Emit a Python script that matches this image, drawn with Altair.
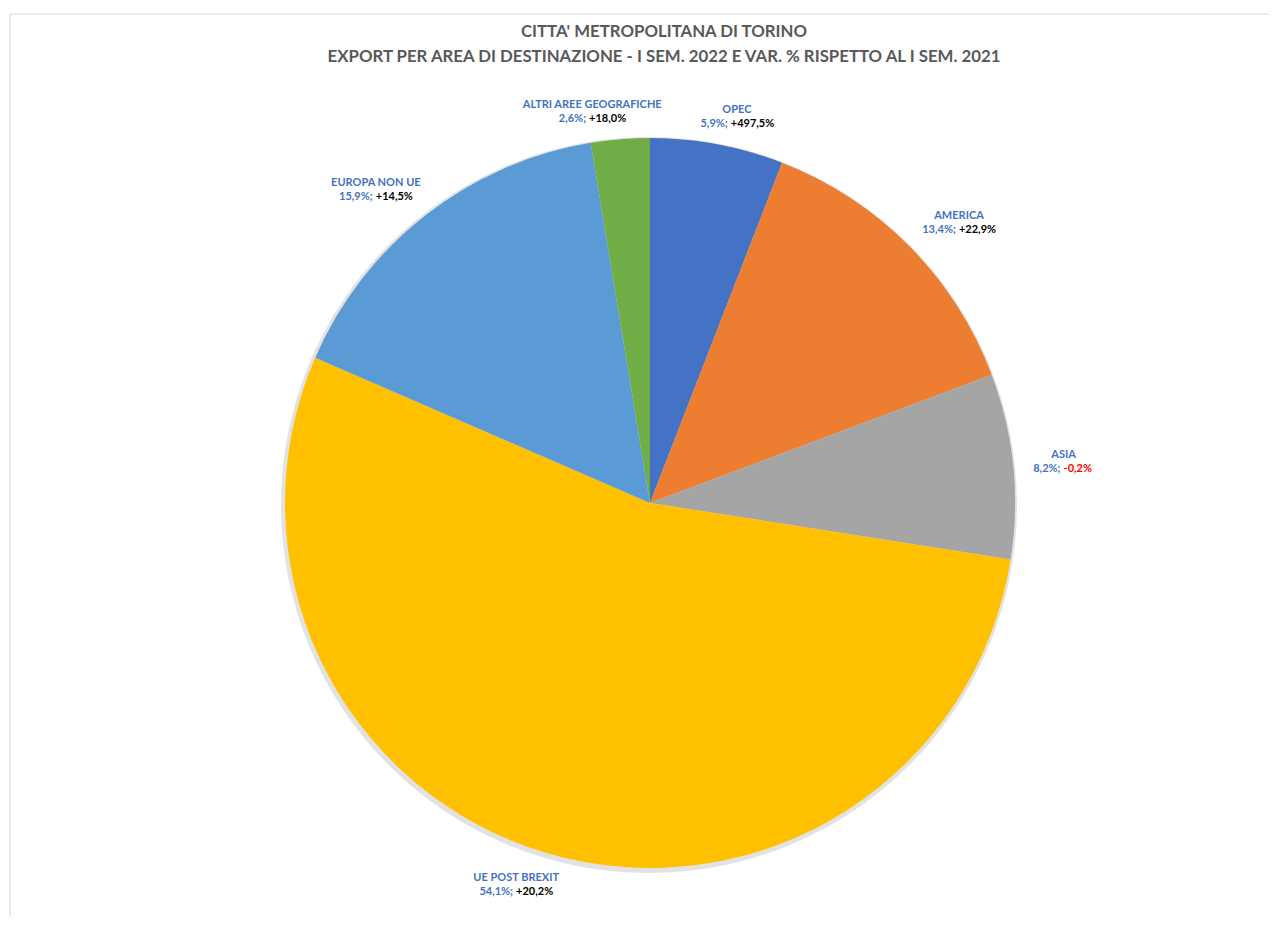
import math
import altair as alt
import pandas as pd

categories = ["OPEC", "AMERICA", "ASIA", "UE POST BREXIT", "EUROPA NON UE", "ALTRI AREE GEOGRAFICHE"]
shares = [5.9, 13.4, 8.2, 54.1, 15.9, 2.6]
variations = [497.5, 22.9, -0.2, 20.2, 14.5, 18.0]
colors = ["#4472C4", "#ED7D31", "#A5A5A5", "#FFC000", "#5B9BD5", "#70AD47"]
title_lines = ["CITTA' METROPOLITANA DI TORINO",
               "EXPORT PER AREA DI DESTINAZIONE - I SEM. 2022 E VAR. % RISPETTO AL I SEM. 2021"]

FONT = "Lato"
LBL_SIZE = 11
BLUE = "#4472C4"


def it(v):
    return f"{v:.1f}".replace(".", ",")


df = pd.DataFrame({"category": categories, "share": shares, "var": variations})
df["order"] = range(len(df))
df["mid"] = df["share"].cumsum() - df["share"] / 2
df["share_txt"] = [it(s) + "%;" for s in shares]
df["var_txt"] = [("+" if v >= 0 else "") + it(v) + "%" for v in variations]
df["var_col"] = ["#000000" if v >= 0 else "#FF0000" for v in variations]

total = float(sum(shares))
CX, CY = 642, 495
TX = 656
R = 365
LR = 384
theta_scale = alt.Scale(domain=[0, total], range=[0, 2 * math.pi])

widths = {c: 0.55 for c in "0123456789+-"}
widths.update({",": 0.26, ";": 0.26, "%": 0.85, " ": 0.26})


def tw(s):
    return sum(widths.get(c, 0.55) for c in s) * LBL_SIZE


def tw_name(s):
    return len(s) * 0.576 * LBL_SIZE


base = alt.Chart(df)

frame = alt.Chart(pd.DataFrame({"a": [0]})).mark_rect(
    fillOpacity=0, stroke="#d9d9d9", strokeWidth=1
).encode(x=alt.value(2), x2=alt.value(1400), y=alt.value(6), y2=alt.value(1000))

shadow = alt.Chart(pd.DataFrame({"a": [0]})).mark_arc(
    radius=R + 3, theta=0, theta2=2 * math.pi, color="#d6d6d6", opacity=0.7
).encode(x=alt.value(CX - 1), y=alt.value(CY + 2))

pie = base.mark_arc(radius=R).encode(
    theta=alt.Theta("share:Q", stack=True, scale=theta_scale),
    color=alt.Color("category:N", scale=alt.Scale(domain=categories, range=colors), legend=None),
    order=alt.Order("order:Q"),
    x=alt.value(CX),
    y=alt.value(CY),
)

layers = [frame, shadow, pie]
H = 28
gap = 3
K = 15

for i in range(len(df)):
    ang = df["mid"][i] / total * 2 * math.pi
    ws = tw(df["share_txt"][i])
    wv = tw(df["var_txt"][i])
    wn = tw_name(df["category"][i])
    w = max(wn, ws + gap + wv)
    s = math.sin(ang)
    c = math.cos(ang)
    ox = s * w / 2 + math.copysign(1, s) * K * abs(c) - 6 * max(0.0, c) ** 8
    oy = -c * H / 2 + 6 * max(0.0, c) ** 8
    split = (ws + gap - wv) / 2 - gap
    sub = base.transform_filter(alt.datum.order == i)
    th = alt.Theta("mid:Q", stack=False, scale=theta_scale)
    layers.append(sub.mark_text(
        radius=LR, dy=oy - 7, dx=ox, align="center", baseline="middle",
        font=FONT, fontSize=LBL_SIZE, fontWeight="bold", color=BLUE
    ).encode(theta=th, text="category:N", x=alt.value(CX), y=alt.value(CY)))
    layers.append(sub.mark_text(
        radius=LR, dy=oy + 7, dx=ox + split, align="right", baseline="middle",
        font=FONT, fontSize=LBL_SIZE, fontWeight="bold", color=BLUE
    ).encode(theta=th, text="share_txt:N", x=alt.value(CX), y=alt.value(CY)))
    layers.append(sub.mark_text(
        radius=LR, dy=oy + 7, dx=ox + split + gap, align="left", baseline="middle",
        font=FONT, fontSize=LBL_SIZE, fontWeight="bold", color=df["var_col"][i]
    ).encode(theta=th, text="var_txt:N", x=alt.value(CX), y=alt.value(CY)))

t1 = alt.Chart(pd.DataFrame({"t": [title_lines[0]]})).mark_text(
    font=FONT, fontSize=16.8, fontWeight="bold", color="#595959", align="center", baseline="middle"
).encode(text="t:N", x=alt.value(TX), y=alt.value(24))
t2 = alt.Chart(pd.DataFrame({"t": [title_lines[1]]})).mark_text(
    font=FONT, fontSize=16.8, fontWeight="bold", color="#595959", align="center", baseline="middle"
).encode(text="t:N", x=alt.value(TX), y=alt.value(49))
layers += [t1, t2]

chart = alt.layer(*layers).properties(
    width=1261, height=909, autosize="none", padding=0
).configure_view(stroke=None)

chart.save("out.html", embed_options={"renderer": "svg", "actions": False})
